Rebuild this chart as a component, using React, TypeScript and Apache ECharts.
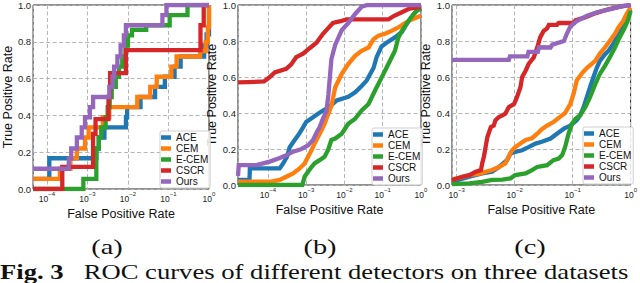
import React, { useEffect, useRef } from "react";
import * as echarts from "echarts";

// Each curve: [log10(False Positive Rate), True Positive Rate]
const names = ["ACE", "CEM", "E-CEM", "CSCR", "Ours"];
const colors = ["#1f77b4", "#ff7f0e", "#2ca02c", "#d62728", "#9467bd"];
const yTicks = [0, 0.2, 0.4, 0.6, 0.8, 1.0];
const captions = ["(a)", "(b)", "(c)"];
const figTitle = "Fig. 3";
const figText = "ROC curves of different detectors on three datasets";

// panel (a): staircase curves
const aceA = [[-4.34,0.055],[-3.94,0.167],[-2.78,0.22],[-2.72,0.28],[-2.58,0.335],[-2.05,0.39],[-2.02,0.445],[-1.69,0.5],[-1.33,0.555],[-1.09,0.61],[-0.85,0.665],[-0.7,0.72],[-0.12,0.78],[-0.06,0.84],[0,1.0]];
const cemA = [[-4.34,0.055],[-3.68,0.11],[-3.42,0.167],[-3.26,0.22],[-3.06,0.28],[-2.97,0.335],[-2.62,0.39],[-2.46,0.445],[-1.77,0.5],[-1.45,0.555],[-1.29,0.61],[-0.93,0.665],[-0.8,0.72],[-0.22,0.75],[-0.08,0.8],[-0.03,0.88],[0,1.0]];
const ecemA = [[-4.34,0],[-3.1,0.055],[-2.78,0.22],[-2.72,0.28],[-2.66,0.335],[-2.55,0.39],[-2.5,0.445],[-2.45,0.5],[-2.4,0.555],[-2.3,0.61],[-2.22,0.665],[-2.14,0.72],[-2.06,0.78],[-2.0,0.835],[-1.9,0.865],[-1.55,0.89],[-0.97,0.945],[-0.53,1.0],[0,1.0]];
const cscrA = [[-4.34,0],[-3.62,0.12],[-2.86,0.3],[-2.8,0.38],[-2.48,0.5],[-2.44,0.63],[-2.05,0.755],[-0.21,0.89],[-0.13,1.0],[0,1.0]];
const oursA = [[-4.34,0.11],[-3.46,0.165],[-3.4,0.22],[-3.26,0.28],[-3.14,0.335],[-3.06,0.39],[-2.94,0.445],[-2.86,0.5],[-2.46,0.555],[-2.38,0.61],[-2.34,0.665],[-2.26,0.72],[-2.18,0.78],[-2.1,0.835],[-2.05,0.89],[-1.15,0.945],[-1.05,1.0],[0,1.0]];

// panel (b)
const aceB = [[-4.78,0.028],[-4.48,0.028],[-4.47,0.092],[-3.69,0.092],[-3.6,0.12],[-3.5,0.157],[-3.43,0.21],[-3.3,0.25],[-3.21,0.276],[-3.08,0.32],[-3.0,0.35],[-2.82,0.377],[-2.69,0.396],[-2.56,0.414],[-2.42,0.43],[-2.2,0.47],[-1.9,0.49],[-1.72,0.515],[-1.55,0.55],[-1.42,0.58],[-1.24,0.65],[-1.16,0.71],[-1.03,0.77],[-0.9,0.79],[-0.68,0.82],[-0.5,0.85],[-0.33,0.91],[-0.11,0.97],[0,0.98]];
const cemB = [[-4.78,0.018],[-3.95,0.018],[-3.69,0.028],[-3.52,0.046],[-3.34,0.064],[-3.17,0.092],[-3.04,0.12],[-2.95,0.157],[-2.86,0.193],[-2.78,0.23],[-2.69,0.267],[-2.6,0.304],[-2.52,0.34],[-2.43,0.39],[-2.34,0.44],[-2.24,0.543],[-2.07,0.617],[-1.9,0.672],[-1.72,0.718],[-1.55,0.746],[-1.37,0.764],[-1.24,0.81],[-1.11,0.83],[-0.94,0.84],[-0.77,0.856],[-0.59,0.875],[-0.42,0.9],[-0.24,0.92],[0,0.94]];
const ecemB = [[-4.78,0],[-3.1,0],[-3.04,0.046],[-2.95,0.074],[-2.86,0.1],[-2.78,0.12],[-2.65,0.138],[-2.52,0.157],[-2.43,0.193],[-2.34,0.25],[-2.24,0.258],[-2.07,0.285],[-1.9,0.34],[-1.72,0.368],[-1.55,0.414],[-1.37,0.45],[-1.2,0.525],[-1.07,0.58],[-0.94,0.635],[-0.81,0.69],[-0.68,0.746],[-0.59,0.82],[-0.5,0.856],[-0.33,0.91],[-0.2,0.948],[-0.07,0.976],[0,0.98]];
const cscrB = [[-4.78,0.57],[-4.1,0.575],[-3.95,0.6],[-3.82,0.625],[-3.52,0.645],[-3.39,0.67],[-3.26,0.71],[-3.08,0.73],[-2.91,0.76],[-2.73,0.79],[-2.56,0.84],[-2.43,0.87],[-2.3,0.9],[-2.1,0.91],[-1.95,0.92],[-0.85,0.92],[-0.7,0.94],[-0.5,0.96],[-0.3,0.98],[0,0.99]];
const oursB = [[-4.78,0.05],[-4.76,0.11],[-4.3,0.11],[-3.95,0.13],[-3.69,0.15],[-3.52,0.165],[-3.34,0.185],[-3.12,0.2],[-2.95,0.22],[-2.82,0.25],[-2.73,0.29],[-2.65,0.32],[-2.56,0.37],[-2.47,0.41],[-2.42,0.5],[-2.38,0.6],[-2.34,0.7],[-2.24,0.78],[-2.07,0.86],[-1.9,0.9],[-1.72,0.95],[-1.55,0.99],[-1.4,1.0],[0,1.0]];

// panel (c)
const aceC = [[-3.08,0.018],[-2.78,0.046],[-2.56,0.064],[-2.39,0.074],[-2.27,0.1],[-2.13,0.138],[-2.07,0.175],[-1.99,0.184],[-1.87,0.193],[-1.76,0.21],[-1.64,0.23],[-1.53,0.24],[-1.38,0.258],[-1.27,0.285],[-1.15,0.313],[-1.04,0.33],[-0.93,0.36],[-0.87,0.387],[-0.81,0.433],[-0.755,0.488],[-0.7,0.543],[-0.64,0.6],[-0.58,0.654],[-0.53,0.69],[-0.44,0.727],[-0.38,0.746],[-0.3,0.783],[-0.21,0.838],[-0.13,0.893],[-0.06,0.948],[0,0.976]];
const cemC = [[-3.08,0.03],[-2.78,0.055],[-2.58,0.064],[-2.5,0.074],[-2.39,0.083],[-2.27,0.1],[-2.16,0.12],[-2.1,0.16],[-2.05,0.19],[-1.99,0.21],[-1.9,0.23],[-1.81,0.25],[-1.7,0.26],[-1.61,0.285],[-1.53,0.31],[-1.44,0.33],[-1.33,0.35],[-1.21,0.38],[-1.13,0.4],[-1.04,0.45],[-0.98,0.51],[-0.93,0.58],[-0.84,0.62],[-0.755,0.65],[-0.7,0.665],[-0.61,0.69],[-0.53,0.73],[-0.44,0.765],[-0.36,0.8],[-0.27,0.84],[-0.21,0.875],[-0.13,0.91],[-0.07,0.95],[0,0.985]];
const ecemC = [[-3.08,0.005],[-2.78,0.009],[-2.56,0.018],[-2.39,0.028],[-2.21,0.03],[-2.07,0.037],[-1.99,0.055],[-1.81,0.064],[-1.7,0.083],[-1.61,0.1],[-1.53,0.105],[-1.44,0.11],[-1.33,0.138],[-1.24,0.147],[-1.18,0.166],[-1.13,0.21],[-1.07,0.285],[-1.01,0.34],[-0.95,0.368],[-0.87,0.387],[-0.78,0.433],[-0.7,0.488],[-0.61,0.56],[-0.53,0.617],[-0.44,0.663],[-0.36,0.709],[-0.27,0.764],[-0.19,0.82],[-0.1,0.875],[-0.04,0.92],[0,0.967]];
const cscrC = [[-3.08,0.028],[-2.9,0.046],[-2.78,0.055],[-2.67,0.074],[-2.58,0.083],[-2.56,0.12],[-2.53,0.157],[-2.5,0.212],[-2.47,0.267],[-2.41,0.322],[-2.36,0.33],[-2.33,0.36],[-2.27,0.378],[-2.21,0.387],[-2.16,0.396],[-2.1,0.433],[-2.01,0.45],[-1.96,0.488],[-1.9,0.543],[-1.87,0.6],[-1.81,0.635],[-1.76,0.672],[-1.67,0.709],[-1.61,0.764],[-1.56,0.82],[-1.5,0.856],[-1.44,0.87],[-1.41,0.89],[-1.27,0.89],[-1.24,0.9],[-0.98,0.9],[-0.95,0.915],[-0.8,0.93],[-0.6,0.955],[-0.4,0.975],[-0.2,0.99],[0,1.0]];
const oursC = [[-3.08,0.695],[-2.1,0.695],[-2.08,0.715],[-1.78,0.715],[-1.76,0.74],[-1.6,0.74],[-1.58,0.765],[-1.38,0.764],[-1.35,0.78],[-1.15,0.8],[-1.1,0.84],[-1.04,0.88],[-0.93,0.91],[-0.75,0.94],[-0.58,0.96],[-0.36,0.976],[-0.13,0.995],[0,1.0]];

const xMinLog = [-4.34, -4.78, -3.08];
const panelCurves = [
  [aceA, cemA, ecemA, cscrA, oursA],
  [aceB, cemB, ecemB, cscrB, oursB],
  [aceC, cemC, ecemC, cscrC, oursC],
];
const panelStep = [true, false, false];

// layout
const grids = [
  { left: 28, top: 4, width: 181, height: 185 },
  { left: 238, top: 4, width: 183, height: 181 },
  { left: 452, top: 4, width: 180, height: 181 },
];
const yNameGap = [15, 12, 14];
const legendPos = [
  { left: 160, top: 131 },
  { left: 372, top: 128 },
  { left: 583, top: 127 },
];
const captionX = [107, 320, 530];

const SANS = "Liberation Sans";
const SERIF = "Liberation Serif";

export default function App() {
  const ref = useRef<HTMLDivElement>(null);
  useEffect(() => {
    if (!ref.current) return;
    const chart = echarts.init(ref.current, undefined, { renderer: "svg" });

    const xAxis = grids.map((_, i) => ({
      type: "log",
      logBase: 10,
      gridIndex: i,
      min: Math.pow(10, xMinLog[i]),
      max: 1,
      name: "False Positive Rate",
      nameLocation: "middle",
      nameGap: 12,
      nameTextStyle: { fontFamily: SANS, fontSize: 12.5, color: "#111" },
      axisLine: { show: false },
      axisTick: { show: false },
      axisLabel: {
        margin: 2,
        color: "#222",
        formatter: (v: number) => {
          const e = Math.log10(v);
          const r = Math.round(e);
          if (Math.abs(e - r) > 1e-6) return "";
          return `{b|10}{e|${r < 0 ? "\u2212" + -r : r}}`;
        },
        rich: {
          b: { fontFamily: SANS, fontSize: 8.5, color: "#222", verticalAlign: "bottom", lineHeight: 12 },
          e: { fontFamily: SANS, fontSize: 6, color: "#222", verticalAlign: "top", lineHeight: 7 },
        },
      },
      splitLine: { show: true, lineStyle: { color: "#b5b5b5", type: [4, 2.5], width: 1 } },
    }));

    const yAxis = grids.map((_, i) => ({
      type: "value",
      gridIndex: i,
      min: yTicks[0],
      max: yTicks[yTicks.length - 1],
      interval: 0.2,
      name: "True Positive Rate",
      nameLocation: "middle",
      nameGap: yNameGap[i],
      nameTextStyle: { fontFamily: SANS, fontSize: 12.5, color: "#111" },
      axisLine: { show: false },
      axisTick: { show: false },
      axisLabel: {
        margin: 2,
        fontFamily: SANS,
        fontSize: 9.5,
        color: "#222",
        formatter: (v: number) => v.toFixed(1),
      },
      splitLine: { show: true, lineStyle: { color: "#b5b5b5", type: [4, 2.5], width: 1 } },
    }));

    const series: any[] = [];
    panelCurves.forEach((curves, p) => {
      curves.forEach((curve, k) => {
        series.push({
          type: "line",
          name: names[k],
          xAxisIndex: p,
          yAxisIndex: p,
          data: curve.map(([e, t]) => [Math.pow(10, e), t]),
          step: panelStep[p] ? "end" : false,
          symbol: "none",
          showSymbol: false,
          lineStyle: { color: colors[k], width: 4.3, join: "miter" },
          itemStyle: { color: colors[k] },
          clip: true,
          silent: true,
        });
      });
    });

    const legend = legendPos.map((pos) => ({
      ...pos,
      orient: "vertical",
      data: names,
      icon: "rect",
      itemWidth: 10,
      itemHeight: 4.5,
      itemGap: 0,
      padding: [1, 2, 1, 1],
      selectedMode: false,
      backgroundColor: "rgba(255,255,255,0.85)",
      borderColor: "#cfcfcf",
      borderWidth: 1,
      borderRadius: 2,
      textStyle: { fontFamily: SANS, fontSize: 10, color: "#111", lineHeight: 11 },
    }));

    const graphic: any[] = captions.map((c, i) => ({
      type: "text",
      x: captionX[i],
      y: 247,
      scaleX: 1.35,
      style: {
        text: c,
        fontFamily: SERIF,
        fontSize: 21,
        fill: "#111",
        align: "center",
        verticalAlign: "middle",
      },
    }));
    graphic.push({
      type: "text",
      x: 0,
      y: 272,
      scaleX: 1.3,
      style: {
        text: `{b|${figTitle}}\u2002 ${figText}`,
        fontFamily: SERIF,
        fontSize: 20.5,
        fill: "#111",
        align: "left",
        verticalAlign: "middle",
        rich: { b: { fontFamily: SERIF, fontSize: 20.5, fontWeight: "bold", fill: "#111" } },
      },
    });

    chart.setOption({
      animation: false,
      backgroundColor: "#fff",
      grid: grids.map((g) => ({ ...g, show: true, borderColor: "#222", borderWidth: 1, backgroundColor: "transparent" })),
      xAxis,
      yAxis,
      legend,
      series,
      graphic,
    });
    return () => chart.dispose();
  }, []);

  return (
    <div
      ref={ref}
      style={{ position: "fixed", left: 0, top: 0, width: 640, height: 283 }}
    />
  );
}
